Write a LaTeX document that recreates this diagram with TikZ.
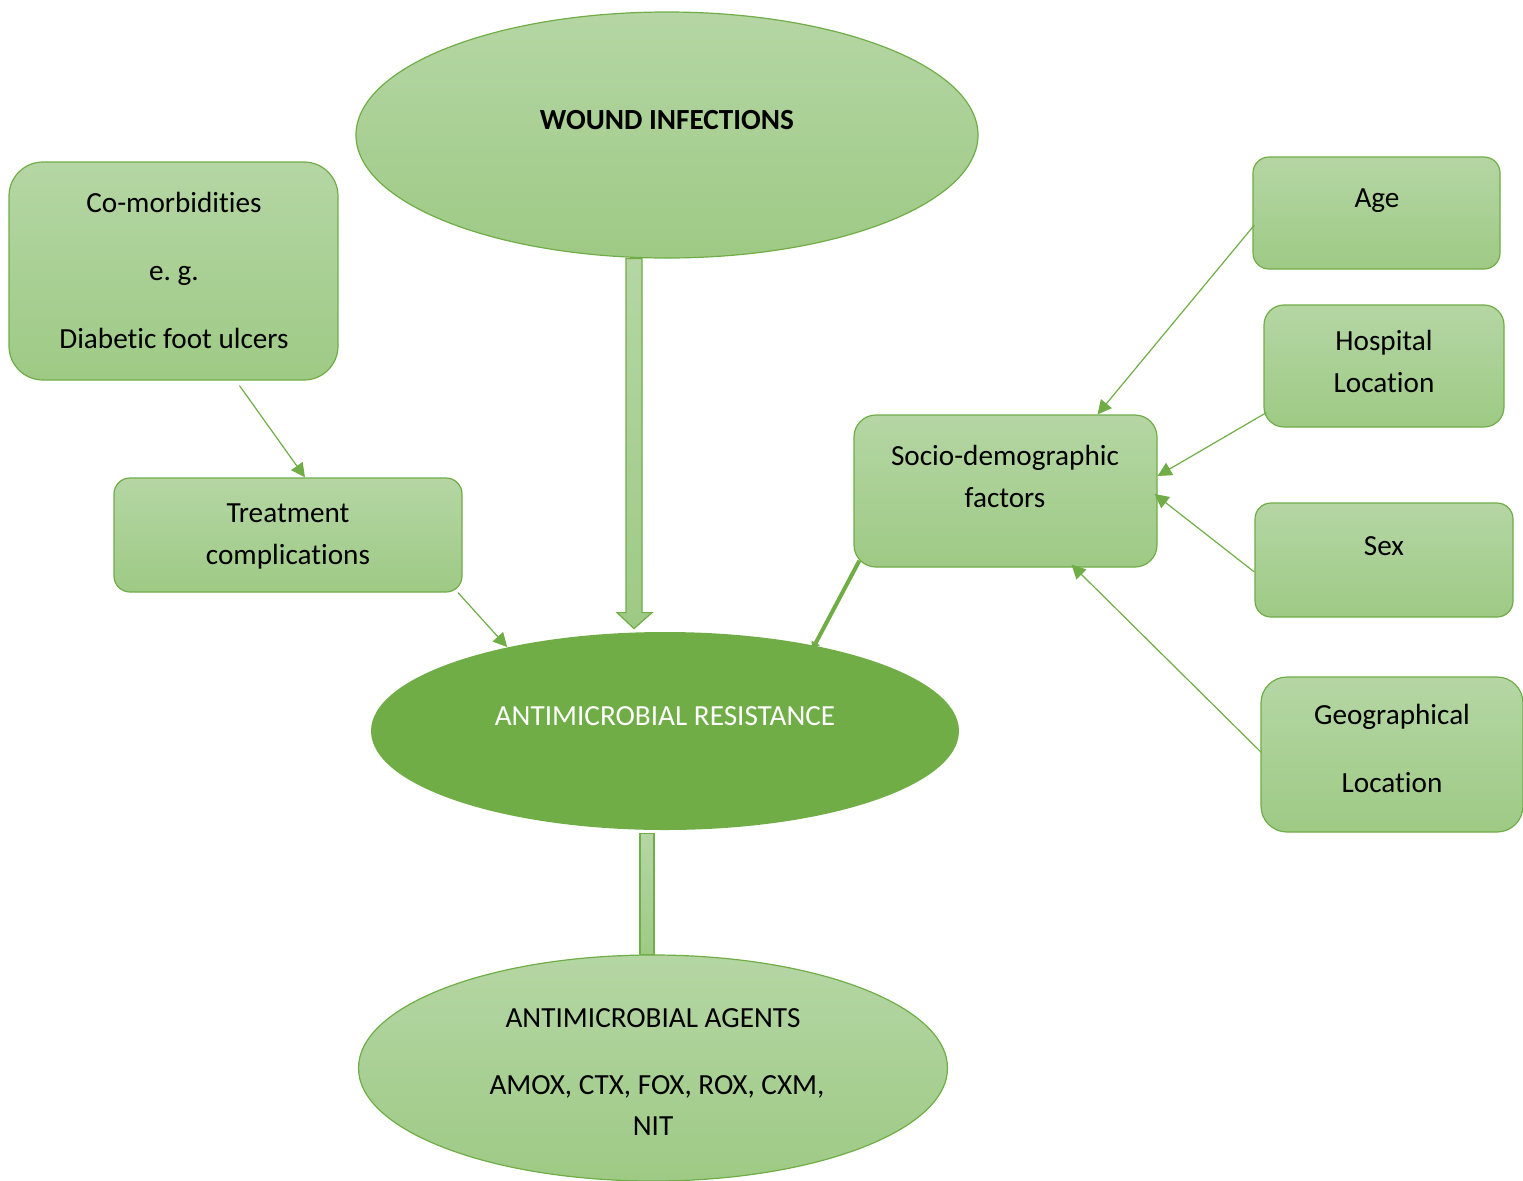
\documentclass[tikz,border=0pt]{standalone}
\usepackage{fontspec}
\setmainfont{Carlito}[Ligatures=NoCommon]
\usetikzlibrary{shapes.geometric,arrows.meta,calc}
\definecolor{gtop}{HTML}{B5D6A4}
\definecolor{gbot}{HTML}{9ECA85}
\definecolor{gdark}{HTML}{70AD47}
\frenchspacing
\begin{document}
\begin{tikzpicture}[x=0.5pt,y=-0.5pt,
  txt/.style={font=\fontsize{14.6}{21}\selectfont, align=center, inner sep=0pt, text=black},
  wide/.style={font=\fontsize{14.6}{34}\selectfont},
  gbox/.style={draw=gdark, line width=0.6pt, rounded corners=#1, top color=gtop, bottom color=gbot, inner sep=0pt},
  gell/.style={ellipse, draw=gdark, line width=0.6pt, top color=gtop, bottom color=gbot, inner sep=0pt},
  link/.style={draw=gdark, line width=0.6pt, -{Triangle[length=7pt,width=7pt]}},
  thicklink/.style={draw=gdark, line width=2pt, -{Triangle[length=4pt,width=4.5pt]}},
  blk/.style={draw=gdark, line width=0.6pt, top color=gtop, bottom color=gbot}
]
\useasboundingbox (0,0) rectangle (1523,1180);

% shapes
\node[gell, minimum width=311pt, minimum height=123pt] (wound) at (667,135) {};
\node[ellipse, fill=gdark, inner sep=0pt, minimum width=294pt, minimum height=99pt] (amr) at (665,731) {};
\node[gell, minimum width=294.5pt, minimum height=113pt] (agents) at (653,1068) {};

\node[gbox=17pt, minimum width=164.5pt, minimum height=109pt] (comorb) at (173.5,271) {};
\node[gbox=8pt, minimum width=174pt, minimum height=57pt] (treat) at (288,535) {};
\node[gbox=11pt, minimum width=151.5pt, minimum height=76pt] (socio) at (1005.5,491) {};
\node[gbox=8pt, minimum width=123.5pt, minimum height=56pt] (age) at (1376.5,213) {};
\node[gbox=10pt, minimum width=120pt, minimum height=61pt] (hosp) at (1384,366) {};
\node[gbox=8pt, minimum width=129pt, minimum height=57pt] (sex) at (1384,560) {};
\node[gbox=13pt, minimum width=131pt, minimum height=77.5pt] (geo) at (1392,754.5) {};

% texts
\node[txt, font=\fontsize{14.6}{21}\selectfont\bfseries] (woundt) at (667,120) {WOUND INFECTIONS};
\node[txt, text=white] (amrt) at (665,716) {ANTIMICROBIAL RESISTANCE};
\node[txt] (agt1) at (653,1018) {ANTIMICROBIAL AGENTS};
\node[txt] (agt2) at (657,1087) {AMOX, CTX, FOX, ROX, CXM,};
\node[txt] (agt3) at (653,1126) {NIT};
\node[txt, wide] (comorbt) at (174,270) {Co-morbidities\\e. g.\\Diabetic foot ulcers};
\node[txt] (treatt) at (288,536) {Treatment\\complications};
\node[txt] (sociot) at (1005,476) {Socio-demographic\\factors};
\node[txt] (aget) at (1377,201) {Age};
\node[txt] (hospt) at (1384,361) {Hospital\\Location};
\node[txt] (sext) at (1384,546) {Sex};
\node[txt, wide] (geot) at (1392,748) {Geographical\\Location};

% block arrow from wound infections
\coordinate (ba) at ($(wound.south)+(-33,0)$);
\draw[blk] ($(ba)+(-8,0)$) -- ($(ba)+(8,0)$) -- ($(ba)+(8,354)$) -- ($(ba)+(18,354)$)
  -- ($(ba)+(0,370)$) -- ($(ba)+(-17,354)$) -- ($(ba)+(-8,354)$) -- cycle;

% connector bar to agents
\draw[blk] ($(amr.south)+(-25,3)$) rectangle ($(agents.north)+(1,0)$);

% arrows
\draw[link] ($(comorb.south)+(66,5)$) -- ($(treat.north)+(17,0)$);
\draw[link] ($(treat.south)+(170,0)$) -- (amr.152);
\draw[thicklink] ($(socio.south west)+(6,-7)$) -- ($(amr.center)+(147,-81)$);
\draw[link] ($(age.west)+(2,12)$) -- ($(socio.north)+(92,0)$);
\draw[link] ($(hosp.south west)+(3,-15)$) -- ($(socio.east)+(0,-15)$);
\draw[link] ($(sex.west)+(0,12)$) -- ($(socio.east)+(-3,3)$);
\draw[link] ($(geo.west)+(1,-2)$) -- ($(socio.south)+(66,-3)$);
\end{tikzpicture}
\end{document}
